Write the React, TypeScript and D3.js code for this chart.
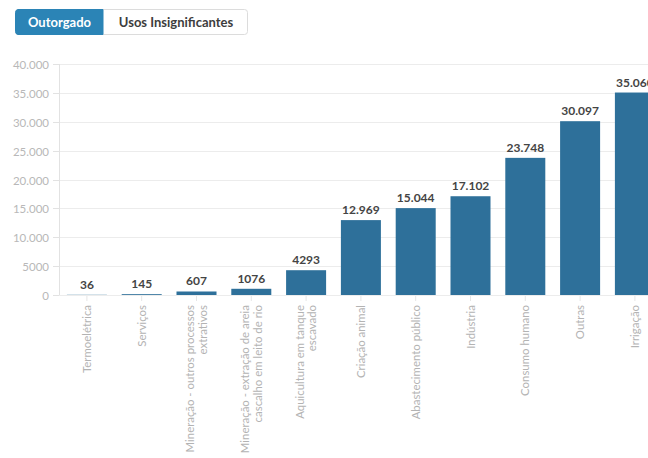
import React from "react";
import * as d3 from "d3";

const categories = [
  "Termoelétrica",
  "Serviços",
  "Mineração - outros processos extrativos",
  "Mineração - extração de areia cascalho em leito de rio",
  "Aquicultura em tanque escavado",
  "Criação animal",
  "Abastecimento público",
  "Indústria",
  "Consumo humano",
  "Outras",
  "Irrigação",
];

const labelLines = [
  ["Termoelétrica"],
  ["Serviços"],
  ["Mineração - outros processos", "extrativos"],
  ["Mineração - extração de areia", "cascalho em leito de rio"],
  ["Aquicultura em tanque", "escavado"],
  ["Criação animal"],
  ["Abastecimento público"],
  ["Indústria"],
  ["Consumo humano"],
  ["Outras"],
  ["Irrigação"],
];

const values = [36, 145, 607, 1076, 4293, 12969, 15044, 17102, 23748, 30097, 35060];

const yTicks = [0, 5000, 10000, 15000, 20000, 25000, 30000, 35000, 40000];

const buttons = ["Outorgado", "Usos Insignificantes"];

const W = 648;
const H = 458;
const FONT = "Lato, 'Open Sans', sans-serif";

function fmt(v: number): string {
  if (v < 10000) return String(v);
  return d3.format(",")(v).replace(/,/g, ".");
}

export default function App() {
  const left = 59.5;
  const step = 54.8;
  const x = d3
    .scaleBand<string>()
    .domain(categories)
    .range([left, left + step * categories.length])
    .paddingInner(0.27)
    .paddingOuter(0.135);
  const y = d3.scaleLinear().domain([0, 40000]).range([295, 64]);

  const btnX = [15, 103, 248];

  return (
    <svg
      width={W}
      height={H}
      style={{ position: "absolute", left: 0, top: 0, background: "#fff" }}
      fontFamily={FONT}
    >
      {/* buttons */}
      <rect x={15.5} y={9.5} width={232} height={25} rx={3} fill="#fff" stroke="#dcdcdc" />
      <path
        d={`M${btnX[0] + 3},9.5 H${btnX[1]} V34.5 H${btnX[0] + 3} A3,3 0 0 1 ${btnX[0] + 0.5},31.5 V12.5 A3,3 0 0 1 ${btnX[0] + 3},9.5 Z`}
        fill="#2b84b6"
        stroke="#2b84b6"
      />
      {buttons.map((b, i) => (
        <text
          key={b}
          x={(btnX[i] + btnX[i + 1]) / 2 + 0.5}
          y={26.5}
          textAnchor="middle"
          fontSize={13}
          fontWeight="bold"
          fill={i === 0 ? "#fff" : "#3d3d3d"}
        >
          {b}
        </text>
      ))}

      {/* grid */}
      {yTicks.map((t) => (
        <g key={t}>
          <line x1={left} x2={W} y1={Math.round(y(t)) + 0.5} y2={Math.round(y(t)) + 0.5} stroke="#ececec" />
          <line x1={53} x2={left} y1={Math.round(y(t)) + 0.5} y2={Math.round(y(t)) + 0.5} stroke="#e2e2e2" />
          <text
            x={49}
            y={Math.round(y(t)) + 0.5}
            dy="0.35em"
            textAnchor="end"
            fontSize={11.5}
            fill="#b8b8b8"
          >
            {fmt(t)}
          </text>
        </g>
      ))}
      <line x1={left} x2={left} y1={y(40000)} y2={y(0)} stroke="#e2e2e2" />

      {/* bars */}
      {categories.map((c, i) => (
        <rect
          key={c}
          x={x(c)}
          y={y(values[i])}
          width={x.bandwidth()}
          height={y(0) - y(values[i])}
          fill="#2e709a"
        />
      ))}

      {/* x ticks */}
      {categories.map((c) => {
        const cx = (x(c) as number) + x.bandwidth() / 2;
        return <line key={c} x1={cx} x2={cx} y1={296} y2={301} stroke="#e6e6e6" />;
      })}

      {/* value labels */}
      {categories.map((c, i) => (
        <text
          key={c}
          x={(x(c) as number) + x.bandwidth() / 2}
          y={y(values[i]) - 6}
          textAnchor="middle"
          fontSize={12}
          fontWeight="bold"
          fill="#444"
        >
          {fmt(values[i])}
        </text>
      ))}

      {/* category labels */}
      {categories.map((c, i) => {
        const cx = (x(c) as number) + x.bandwidth() / 2;
        const lines = labelLines[i];
        return (
          <g key={c} transform={`translate(${cx},305) rotate(-90)`}>
            {lines.map((l, j) => (
              <text
                key={j}
                x={0}
                y={(j - (lines.length - 1) / 2) * 12.5}
                dy="0.35em"
                textAnchor="end"
                fontSize={11.4}
                fill="#b3b3b3"
              >
                {l}
              </text>
            ))}
          </g>
        );
      })}
    </svg>
  );
}
